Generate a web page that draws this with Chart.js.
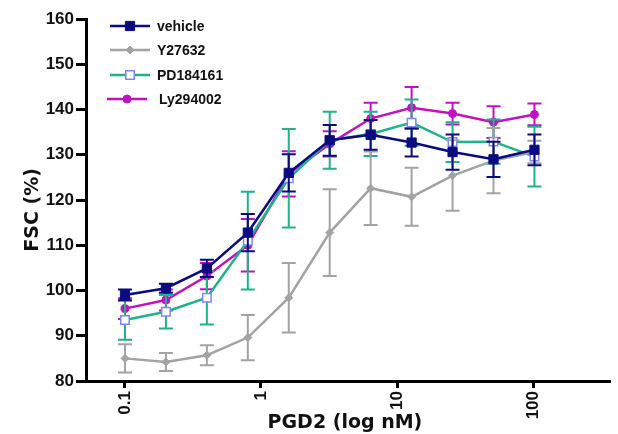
<!DOCTYPE html>
<html>
<head>
<meta charset="utf-8">
<script src="https://cdn.jsdelivr.net/npm/chart.js@4.4.1/dist/chart.umd.min.js"></script>
<style>
  html, body { margin: 0; padding: 0; background: #fff; }
  #wrap { width: 618px; height: 434px; }
</style>
</head>
<body>
<div id="wrap"><canvas id="myChart" width="618" height="434"></canvas></div>
<script>
// doses (nM), doubling from 0.1
const doses = [0.1, 0.2, 0.4, 0.8, 1.6, 3.2, 6.4, 12.8, 25.6, 51.2, 102.4];
const xTicks = [0.1, 1, 10, 100];

// FSC (%) mean and error per series
const vehicle = [99.0, 100.5, 104.9, 112.8, 126.0, 133.2, 134.4, 132.7, 130.6, 129.0, 131.1];
const vehicleErr = [1.2, 1.0, 1.9, 4.1, 4.1, 3.4, 3.3, 3.1, 3.9, 3.9, 3.4];

const y27632 = [85.0, 84.2, 85.7, 89.6, 98.4, 112.8, 122.6, 120.7, 125.4, 128.7, 130.6];
const y27632Err = [3.1, 2.0, 2.2, 5.0, 7.7, 9.6, 8.1, 6.4, 7.8, 7.2, 2.5];

const pd184161 = [93.5, 95.3, 98.4, 111.0, 124.8, 133.2, 134.6, 137.1, 132.8, 132.9, 129.6];
const pd184161Err = [4.4, 3.7, 5.9, 10.8, 10.9, 6.3, 4.9, 5.1, 4.4, 4.9, 6.6];

const ly294002 = [96.0, 97.9, 103.2, 110.0, 125.8, 132.4, 138.0, 140.4, 139.1, 137.2, 138.9];
const ly294002Err = [2.3, 2.3, 2.9, 5.8, 5.0, 2.8, 3.5, 4.6, 2.4, 3.5, 2.4];

const errores = [vehicleErr, y27632Err, pd184161Err, ly294002Err];

const tickFont = { family: "'Liberation Sans', Arial, sans-serif", size: 17, weight: "bold" };
const titleFont = { family: "'DejaVu Sans', sans-serif", size: 19, weight: "bold" };

function serie(label, valores, color, puntos) {
  return Object.assign({
    label: label,
    data: doses.map((d, i) => ({ x: d, y: valores[i] })),
    borderColor: color,
    borderWidth: 2.5,
    pointBorderWidth: 1,
    tension: 0
  }, puntos);
}

// error bars drawn just before each dataset
const barrasError = {
  id: "barrasError",
  beforeDatasetDraw(chart, args) {
    const ds = chart.data.datasets[args.index];
    const err = errores[args.index];
    const yScale = chart.scales.y;
    const ctx = chart.ctx;
    ctx.save();
    ctx.strokeStyle = ds.borderColor;
    ctx.lineWidth = 2;
    args.meta.data.forEach((pt, i) => {
      const v = ds.data[i].y;
      const top = yScale.getPixelForValue(v + err[i]);
      const bot = yScale.getPixelForValue(v - err[i]);
      ctx.beginPath();
      ctx.moveTo(pt.x, top); ctx.lineTo(pt.x, bot);
      ctx.moveTo(pt.x - 7, top); ctx.lineTo(pt.x + 7, top);
      ctx.moveTo(pt.x - 7, bot); ctx.lineTo(pt.x + 7, bot);
      ctx.stroke();
    });
    ctx.restore();
  }
};

// legend in the upper left, line + marker + text
const leyenda = {
  id: "leyenda",
  afterDraw(chart) {
    const ctx = chart.ctx;
    const filas = [26, 50, 75, 99];
    chart.data.datasets.forEach((ds, i) => {
      const y = filas[i];
      const x0 = i === 3 ? 107 : 110;
      ctx.save();
      ctx.strokeStyle = ds.borderColor;
      ctx.lineWidth = 2.5;
      ctx.beginPath(); ctx.moveTo(x0, y); ctx.lineTo(x0 + 40, y); ctx.stroke();
      ctx.fillStyle = ds.pointBackgroundColor;
      ctx.strokeStyle = ds.pointBorderColor;
      ctx.lineWidth = ds.pointBorderWidth;
      Chart.helpers.drawPoint(ctx, { pointStyle: ds.pointStyle, radius: ds.pointRadius, borderWidth: ds.pointBorderWidth, rotation: 0 }, x0 + 20, y);
      ctx.fillStyle = "#111";
      ctx.font = "bold 14px 'Liberation Sans', Arial, sans-serif";
      ctx.textBaseline = "middle";
      ctx.fillText(ds.label, i === 3 ? 159 : 157, y + 1);
      ctx.restore();
    });
  }
};

const config = {
  type: "line",
  data: {
    datasets: [
      serie("vehicle", vehicle, "#0b0b80", { pointStyle: "rect", pointRadius: 6.5, pointBackgroundColor: "#0b0b80", pointBorderColor: "#0b0b80" }),
      serie("Y27632", y27632, "#a3a3a3", { pointStyle: "rectRot", pointRadius: 4, pointBackgroundColor: "#a3a3a3", pointBorderColor: "#a3a3a3" }),
      serie("PD184161", pd184161, "#1fb38a", { pointStyle: "rect", pointRadius: 6, pointBackgroundColor: "#ffffff", pointBorderColor: "#7f86f0", pointBorderWidth: 1.5 }),
      serie("Ly294002", ly294002, "#c012c0", { pointStyle: "circle", pointRadius: 4, pointBackgroundColor: "#c012c0", pointBorderColor: "#c012c0" })
    ]
  },
  options: {
    responsive: false,
    animation: false,
    layout: { padding: { top: 19, left: 22, right: 0, bottom: 0 } },
    plugins: { legend: { display: false }, tooltip: { enabled: false } },
    scales: {
      x: {
        type: "logarithmic",
        min: 0.0517,
        max: 371,
        afterBuildTicks: (s) => { s.ticks = xTicks.map((v) => ({ value: v })); },
        afterFit: (s) => { s.height = 53; s.paddingLeft = 0; s.paddingRight = 0; },
        ticks: { minRotation: 90, maxRotation: 90, color: "#111", font: tickFont, padding: 3, callback: (v) => String(v) },
        grid: { drawOnChartArea: false, tickLength: 7, tickWidth: 3, tickColor: "#000" },
        border: { color: "#000", width: 3 },
        title: { display: true, text: "PGD2 (log nM) ", color: "#111", font: titleFont, padding: 0 }
      },
      y: {
        min: 80,
        max: 160,
        afterFit: (s) => { s.width = 64; },
        ticks: { stepSize: 10, color: "#111", font: tickFont, padding: 2 },
        grid: { drawOnChartArea: false, tickLength: 10, tickWidth: 3, tickColor: "#000" },
        border: { color: "#000", width: 3 },
        title: { display: true, text: "FSC (%)   ", color: "#111", font: titleFont, padding: 0 }
      }
    }
  },
  plugins: [barrasError, leyenda]
};

new Chart(document.getElementById("myChart"), config);
</script>
</body>
</html>
